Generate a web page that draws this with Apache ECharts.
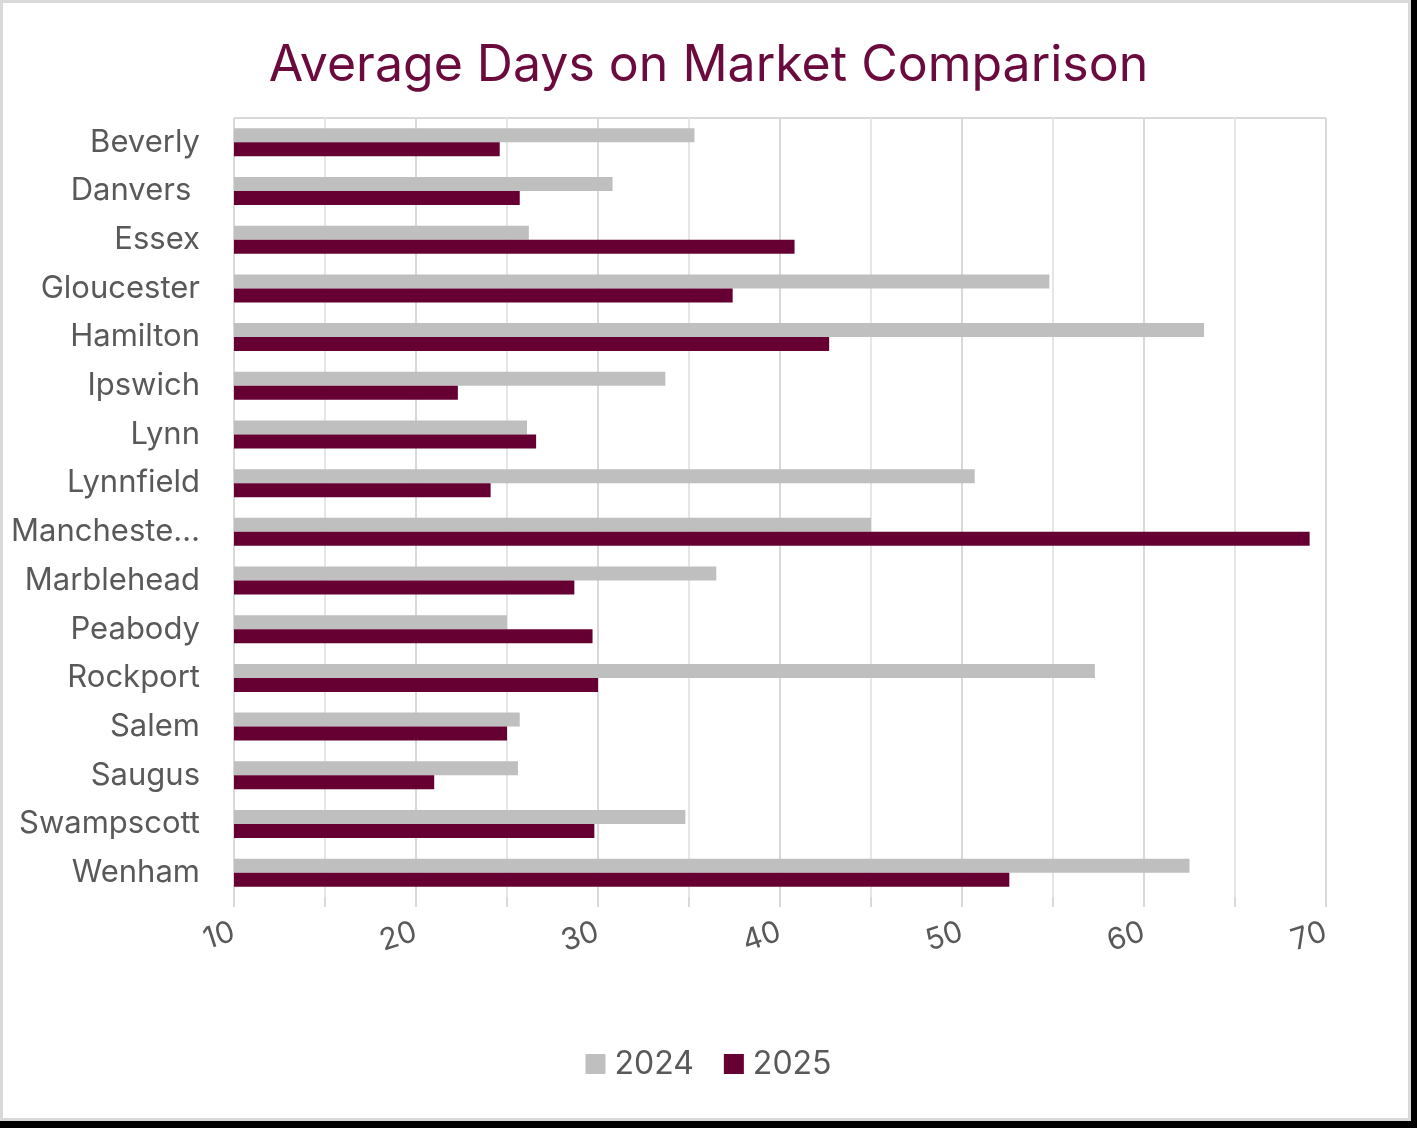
<!DOCTYPE html>
<html>
<head>
<meta charset="utf-8">
<script src="https://cdn.jsdelivr.net/npm/echarts@6/dist/echarts.min.js"></script>
<style>
  html, body { margin: 0; padding: 0; background: #000; width: 1417px; height: 1128px; overflow: hidden; }
  #frame { position: absolute; left: 0; top: 0; width: 1411px; height: 1121px; background: #fff; border: 3px solid #d9d9d9; box-sizing: border-box; }
  #chart { position: absolute; left: 0; top: 0; width: 1417px; height: 1128px; }
</style>
</head>
<body>
<div id="frame"></div>
<div id="chart"></div>
<script>
const categories = ['Beverly', 'Danvers ', 'Essex', 'Gloucester', 'Hamilton', 'Ipswich', 'Lynn', 'Lynnfield',
  'Manchester-by-the-Sea', 'Marblehead', 'Peabody', 'Rockport', 'Salem', 'Saugus', 'Swampscott', 'Wenham'];
const values2024 = [35.3, 30.8, 26.2, 54.8, 63.3, 33.7, 26.1, 50.7, 45.0, 36.5, 25.0, 57.3, 25.7, 25.6, 34.8, 62.5];
const values2025 = [24.6, 25.7, 40.8, 37.4, 42.7, 22.3, 26.6, 24.1, 69.1, 28.7, 29.7, 30.0, 25.0, 21.0, 29.8, 52.6];
const xTicks = { min: 10, max: 70, interval: 10 };

const chart = echarts.init(document.getElementById('chart'), null, { renderer: 'canvas' });
const font = 'Inter, "Noto Sans", sans-serif';
chart.setOption({
  animation: false,
  title: {
    text: 'Average Days on Market Comparison',
    left: 'center',
    top: 36,
    textStyle: { color: '#6b0a3c', fontSize: 50, fontWeight: 'normal', fontFamily: font }
  },
  legend: {
    bottom: 43,
    left: 'center',
    itemWidth: 20,
    itemHeight: 20,
    itemGap: 30,
    itemStyle: { borderWidth: 0 },
    icon: 'rect',
    textStyle: { color: '#595959', fontSize: 32, fontFamily: font, padding: [0, 0, 0, 4] },
    data: ['2024', '2025']
  },
  grid: { left: 234, right: 91, top: 118, bottom: 231, containLabel: false },
  xAxis: {
    type: 'value',
    min: xTicks.min,
    max: xTicks.max,
    interval: xTicks.interval,
    axisLine: { show: false },
    axisTick: { show: true, length: 10, lineStyle: { color: '#d9d9d9', width: 2 } },
    minorTick: { show: true, splitNumber: 2, length: 10, lineStyle: { color: '#d9d9d9', width: 2 } },
    splitLine: { show: true, lineStyle: { color: '#d9d9d9', width: 2 } },
    minorSplitLine: { show: true, lineStyle: { color: '#e6e6e6', width: 2 } },
    axisLabel: { color: '#595959', fontSize: 30, fontFamily: font, rotate: 18, margin: 34 }
  },
  yAxis: {
    type: 'category',
    inverse: true,
    data: categories,
    axisLine: { show: false },
    axisTick: { show: false },
    splitLine: { show: false },
    axisLabel: {
      color: '#595959', fontSize: 31, fontFamily: font, margin: 34,
      formatter: v => v.length > 12 ? v.slice(0, 9) + '…' : v
    }
  },
  graphic: [{
    type: 'line',
    shape: { x1: 234, y1: 118, x2: 1326, y2: 118 },
    style: { stroke: '#d9d9d9', lineWidth: 2 },
    z: 0
  }],
  series: [
    { name: '2024', type: 'bar', data: values2024, barWidth: 14, barGap: '0%', itemStyle: { color: '#bfbfbf' } },
    { name: '2025', type: 'bar', data: values2025, barWidth: 14, barGap: '0%', itemStyle: { color: '#660033' } }
  ]
});
</script>
</body>
</html>
